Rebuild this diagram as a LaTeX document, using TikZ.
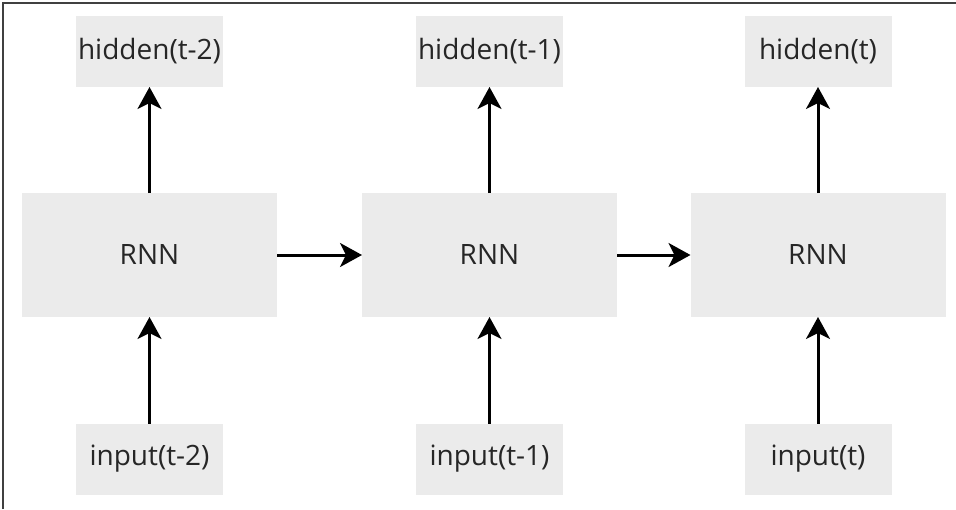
\documentclass[tikz,border=0pt]{standalone}
\usepackage{fontspec}
\setmainfont{Open Sans}
\usepackage{tikz}
\usetikzlibrary{%
	arrows.meta,%
	calc
}

\begin{document}
\begin{tikzpicture}
		[x=1pt,y=-1pt,
		cell/.style={fill=black!8,inner sep=0pt,outer sep=0pt,text=black!85,font=\fontsize{28}{32}\selectfont},
		iobox/.style={cell,minimum width=147pt,minimum height=71pt},
		rnnbox/.style={cell,minimum width=255pt,minimum height=124pt},
		flow/.style={line width=3pt,-{Stealth[length=22pt,width=24pt,inset=6pt]}}
		]
		\useasboundingbox (0,0) rectangle (956,509);
		
		% frame
		\draw[black!75,line width=1.2pt] (3,509) -- (3,3) -- (956,3);
		
		% one column per time step
		\foreach \n/\x/\t in {1/149.5/t-2,2/489.5/t-1,3/818/t}
		{
			\node[iobox] (h\n) at (\x,51.5) {hidden(\t)};
			\node[rnnbox] (r\n) at (\x,255) {RNN};
			\node[iobox] (i\n) at (\x,459) {input(\t)};
			\draw[flow] (i\n) -- (r\n);
			\draw[flow] (r\n) -- (h\n);
		}
		
		% recurrence
		\draw[flow] (r1) -- (r2);
		\draw[flow] (r2) -- (r3);
	\end{tikzpicture}
\end{document}
